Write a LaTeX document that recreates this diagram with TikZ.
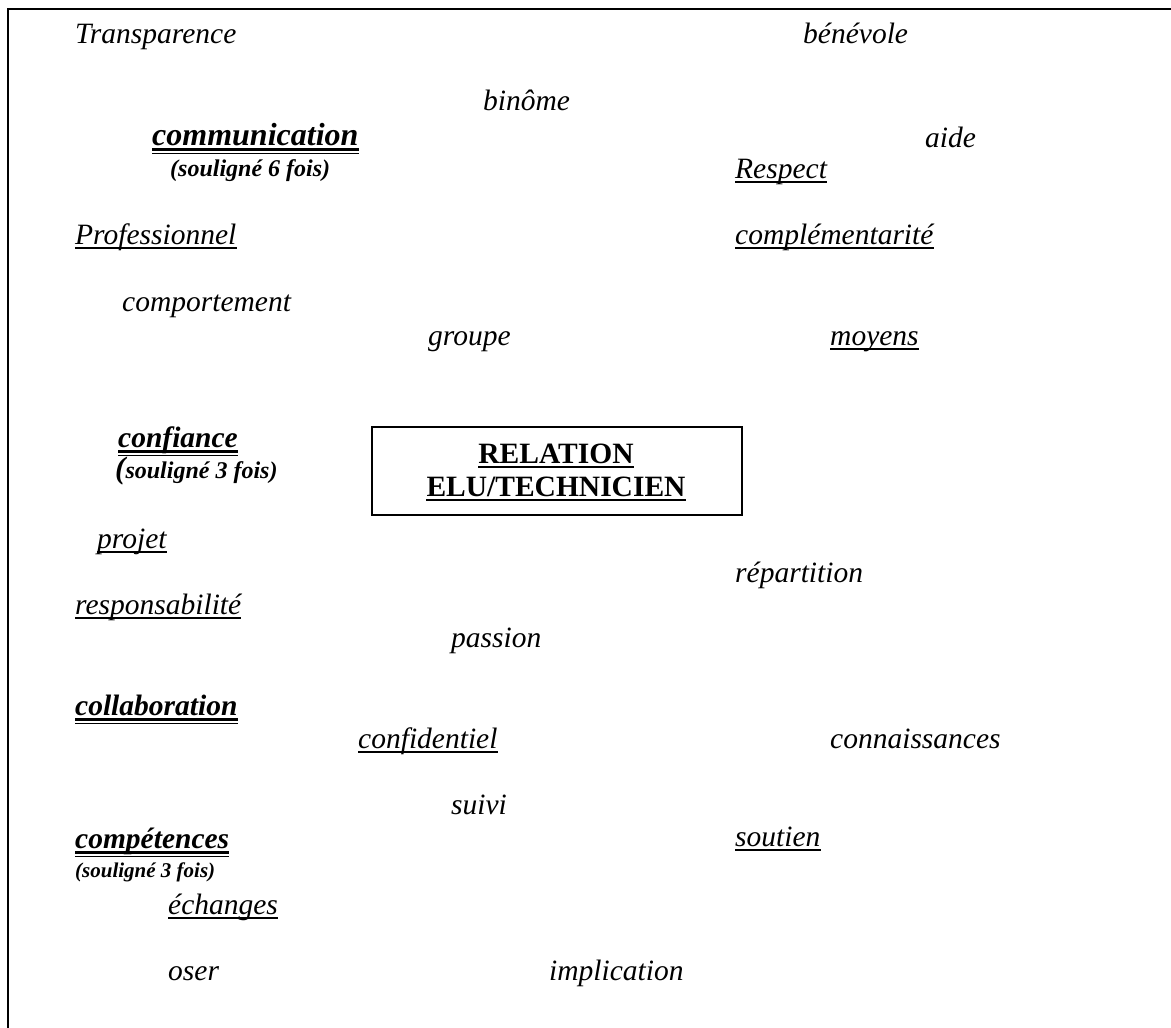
\documentclass[tikz,border=0pt]{standalone}
\usepackage{fontspec}
\setmainfont{Liberation Serif}
\usepackage{tikz}

\tikzset{
  mot/.style={anchor=base west, inner sep=0pt, font=\fontsize{29.5}{34}\selectfont\itshape},
  motgras/.style={mot, font=\fontsize{29.5}{34}\selectfont\bfseries\itshape},
  remarque/.style={anchor=base west, inner sep=0pt, font=\fontsize{24}{28}\selectfont\bfseries\itshape},
  titre/.style={anchor=base, inner sep=0pt, font=\fontsize{29.5}{34}\selectfont\bfseries},
  trait/.style={line width=1.8pt},
  gros trait/.style={line width=2.8pt},
  fin trait/.style={line width=1.2pt}
}

\begin{document}
\begin{tikzpicture}[x=1pt, y=-1pt]
  \useasboundingbox (0,0) rectangle (1171,1028);
  \fill[white] (0,0) rectangle (1171,1028);
  % cadre
  \draw[line width=2.6pt] (8,1028) -- (8,9) -- (1171,9);

  % mots
  \node[mot] (transparence) at (75,43) {Transparence};
  \node[mot] (benevole) at (803,43) {bénévole};
  \node[mot] (binome) at (483,110) {binôme};
  \node[motgras, font=\fontsize{32}{36}\selectfont\bfseries\itshape] (communication) at (152,145) {communication};
  \node[remarque] (note6) at (170,176) {(souligné 6 fois)};
  \node[mot] (aide) at (925,147) {aide};
  \node[mot] (respect) at (735,178) {Respect};
  \node[mot] (professionnel) at (75,244) {Professionnel};
  \node[mot] (complementarite) at (735,244) {complémentarité};
  \node[mot] (comportement) at (122,311) {comportement};
  \node[mot] (groupe) at (428,345) {groupe};
  \node[mot] (moyens) at (830,345) {moyens};
  \node[motgras] (confiance) at (118,447) {confiance};
  \node[remarque] (note3a) at (115,478) {{\fontsize{31}{34}\selectfont(}souligné 3 fois)};
  \node[mot] (projet) at (97,548) {projet};
  \node[mot] (repartition) at (735,582) {répartition};
  \node[mot] (responsabilite) at (75,614) {responsabilité};
  \node[mot] (passion) at (451,647) {passion};
  \node[motgras] (collaboration) at (75,715) {collaboration};
  \node[mot] (confidentiel) at (358,748) {confidentiel};
  \node[mot] (connaissances) at (830,748) {connaissances};
  \node[mot] (suivi) at (451,814) {suivi};
  \node[motgras] (competences) at (75,848) {compétences};
  \node[remarque, font=\fontsize{21}{24}\selectfont\bfseries\itshape] (note3b) at (75,877) {(souligné 3 fois)};
  \node[mot] (soutien) at (735,846) {soutien};
  \node[mot] (echanges) at (168,914) {échanges};
  \node[mot] (oser) at (168,980) {oser};
  \node[mot] (implication) at (549,980) {implication};

  % cadre central
  \draw[line width=2pt] (372,427) rectangle (742,515);
  \node[titre] (relation) at (556,463) {RELATION};
  \node[titre] (elutech) at (556,496) {ELU/TECHNICIEN};

  % soulignements simples
  \foreach \n in {respect, professionnel, complementarite, moyens, projet, responsabilite,
                  confidentiel, soutien, echanges, relation, elutech}
    \draw[trait] ([yshift=-4pt]\n.base west) -- ([yshift=-4pt]\n.base east);
  % soulignements doubles
  \foreach \n in {communication, confiance, collaboration, competences} {
    \draw[gros trait] ([yshift=-4.5pt]\n.base west) -- ([yshift=-4.5pt]\n.base east);
    \draw[fin trait] ([yshift=-8.5pt]\n.base west) -- ([yshift=-8.5pt]\n.base east);
  }
\end{tikzpicture}
\end{document}
